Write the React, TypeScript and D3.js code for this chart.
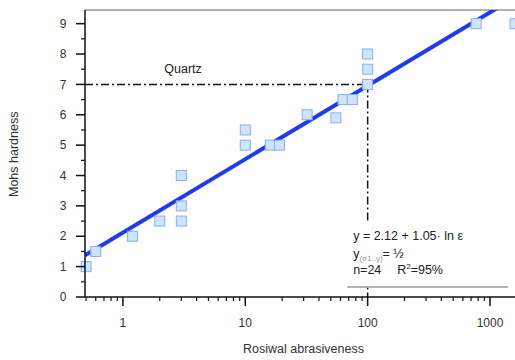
import React from 'react';
import * as d3 from 'd3';

// Rosiwal abrasiveness vs Mohs hardness
const abrasiveness = [0.5, 0.6, 1.2, 2, 3, 3, 3, 10, 10, 16, 19, 32, 55, 63, 75, 100, 100, 100, 770, 1600];
const hardness = [1, 1.5, 2, 2.5, 2.5, 3, 4, 5, 5.5, 5, 5, 6, 5.9, 6.5, 6.5, 7, 7.5, 8, 9, 9];
const xTicks = [1, 10, 100, 1000];
const yTicks = [0, 1, 2, 3, 4, 5, 6, 7, 8, 9];
const fitCoef = [2.12, 1.05]; // y = a + b ln x
const quartz = { x: 100, y: 7 };

const W = 515;
const H = 360;
const margin = { top: 10, right: 0, bottom: 63, left: 85 };

const App = () => {
  const iw = W - margin.left - margin.right;
  const ih = H - margin.top - margin.bottom;

  const x = d3.scaleLog().domain([0.49, 1600]).range([0, iw]);
  const y = d3.scaleLinear().domain([0, 9.45]).range([ih, 0]);

  const minorX: number[] = [];
  [0.1, 1, 10, 100, 1000].forEach(d => {
    for (let k = 1; k <= 9; k++) {
      const v = d * k;
      if (v >= 0.49 && v <= 1600 && !xTicks.includes(v)) minorX.push(v);
    }
  });
  const minorY = yTicks.map(t => t + 0.5).filter(v => v < 9.45);

  const fitX = [0.49, 1600];
  const fitLine = d3.line<number>()
    .x(d => x(d))
    .y(d => y(fitCoef[0] + fitCoef[1] * Math.log(d)));

  const pts = abrasiveness.map((a, i) => ({ a, h: hardness[i] }));
  const font = '"Liberation Sans", Arial, sans-serif';
  const dashDot = '8,3,2,3';

  const boxX = x(68);
  const boxY = y(2.47);
  const boxH = y(0.33) - y(2.47);

  return (
    <div style={{ position: 'absolute', left: 0, top: 0 }}>
      <svg width={W} height={H} style={{ display: 'block', background: '#fff' }} fontFamily={font}>
        <defs>
          <clipPath id="plotclip">
            <rect x={0} y={0} width={iw} height={ih} />
          </clipPath>
        </defs>
        <g transform={`translate(${margin.left},${margin.top})`}>
          {/* top frame */}
          <line x1={0} x2={iw} y1={0} y2={0} stroke="#9a9a9a" strokeWidth={1.5} />

          {/* quartz guide lines */}
          <line x1={0} x2={x(quartz.x)} y1={y(quartz.y)} y2={y(quartz.y)}
            stroke="#111" strokeWidth={1.5} strokeDasharray={dashDot} />
          <line x1={x(quartz.x)} x2={x(quartz.x)} y1={y(quartz.y)} y2={ih}
            stroke="#111" strokeWidth={1.5} strokeDasharray={dashDot} />
          <text x={x(3.1)} y={y(7.5) + 4} fontSize={12.5} fill="#222" textAnchor="middle">Quartz</text>

          {/* fit line */}
          <g clipPath="url(#plotclip)">
            <path d={fitLine(fitX) || ''} fill="none" stroke="#1b3cf5" strokeWidth={4} />
          </g>

          {/* points */}
          <g>
            {pts.map((p, i) => (
              <rect key={i} x={x(p.a) - 5} y={y(p.h) - 5} width={10} height={10}
                fill="#cfe4ff" stroke="#86adff" strokeWidth={1} />
            ))}
          </g>

          {/* stats box */}
          <g transform={`translate(${boxX}, ${boxY})`}>
            <rect x={0} y={0} width={161} height={boxH} fill="#fff" />
            <line x1={0} x2={161} y1={boxH} y2={boxH} stroke="#9a9a9a" strokeWidth={1.5} />
            <text x={6} y={18} fontSize={12.5} fill="#222">y = 2.12 + 1.05· ln ε</text>
            <text x={6} y={36} fontSize={12.5} fill="#222">
              y<tspan fontSize={8} fill="#999" dy={3}>(σ1..γ)</tspan><tspan dy={-3}>= ½</tspan>
            </text>
            <text x={6} y={52} fontSize={12.5} fill="#222">n=24</text>
            <text x={50} y={52} fontSize={12.5} fill="#222">
              R<tspan fontSize={8} dy={-5}>2</tspan><tspan dy={5}>=95%</tspan>
            </text>
          </g>

          {/* x axis */}
          <g transform={`translate(0,${ih})`}>
            <line x1={0} x2={iw} y1={0} y2={0} stroke="#111" strokeWidth={1.5} />
            {minorX.map(v => (
              <line key={v} x1={x(v)} x2={x(v)} y1={0} y2={4} stroke="#111" strokeWidth={1.2} />
            ))}
            {xTicks.map(v => (
              <g key={v} transform={`translate(${x(v)},0)`}>
                <line y1={0} y2={9} stroke="#111" strokeWidth={1.5} />
                <text y={30} fontSize={12} fill="#333" textAnchor="middle">{v}</text>
              </g>
            ))}
          </g>
          <text x={(x(10) + x(100)) / 2 - 3} y={ih + 56} fontSize={12.5} fill="#333" textAnchor="middle">Rosiwal abrasiveness</text>

          {/* y axis */}
          <line x1={0} x2={0} y1={0} y2={ih} stroke="#111" strokeWidth={1.5} />
          {minorY.map(v => (
            <line key={v} x1={-4} x2={0} y1={y(v)} y2={y(v)} stroke="#111" strokeWidth={1.2} />
          ))}
          {yTicks.map(v => (
            <g key={v} transform={`translate(0,${y(v)})`}>
              <line x1={-9} x2={0} stroke="#111" strokeWidth={1.5} />
              <text x={-22} dy="0.35em" fontSize={12} fill="#333" textAnchor="middle">{v}</text>
            </g>
          ))}
          <text transform={`translate(${-67},${y(4.7)}) rotate(-90)`} fontSize={12.5} fill="#333"
            textAnchor="middle">Mohs hardness</text>
        </g>
      </svg>
    </div>
  );
};

export default App;
